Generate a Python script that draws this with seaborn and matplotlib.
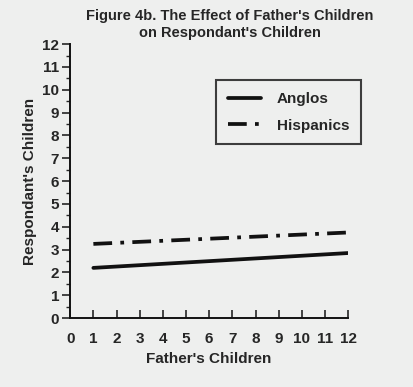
import matplotlib

matplotlib.use("Agg")

import matplotlib.pyplot as plt
import seaborn as sns
import pandas as pd
from matplotlib.lines import Line2D
from matplotlib.ticker import MultipleLocator

# values (straight fitted lines, endpoints at 1 and 12)
fathers_children = [1, 12]
anglos = [2.2, 2.85]
hispanics = [3.25, 3.75]
x_ticks = list(range(0, 13))
y_ticks = list(range(0, 13))

sns.set_theme(style="ticks")
plt.rcParams["font.family"] = ["Liberation Sans", "DejaVu Sans"]
plt.rcParams["font.weight"] = "bold"

df = pd.DataFrame({
    "father": fathers_children * 2,
    "resp": anglos + hispanics,
    "group": ["Anglos"] * 2 + ["Hispanics"] * 2,
})

bg = "#eeefee"
ink = "#111111"
dash_dot = (5, 2.2, 1, 2.2)

fig = plt.figure(figsize=(4.13, 3.87), dpi=100, facecolor=bg)
ax = fig.add_axes([0.17, 0.178, 0.673, 0.708], facecolor=bg)

sns.lineplot(data=df, x="father", y="resp", hue="group", style="group",
             palette=[ink, ink], dashes={"Anglos": "", "Hispanics": dash_dot},
             linewidth=2.7, ax=ax, legend=False)

ax.set_xlim(0, 12)
ax.set_ylim(0, 12)
ax.set_xticks(x_ticks)
ax.set_yticks(y_ticks)
ax.yaxis.set_minor_locator(MultipleLocator(0.5))
ax.tick_params(axis="x", direction="in", length=6, width=1.2, labelsize=11, pad=10)
ax.tick_params(axis="y", which="major", direction="out", length=6, width=1.2,
               labelsize=11, pad=2)
ax.tick_params(axis="y", which="minor", direction="out", length=3, width=1)
for lab in ax.get_xticklabels() + ax.get_yticklabels():
    lab.set_fontweight("bold")
sns.despine(ax=ax)
for s in ("left", "bottom"):
    ax.spines[s].set_linewidth(1.4)
    ax.spines[s].set_color(ink)

ax.set_xlabel("Father's Children", fontsize=11, fontweight="bold", labelpad=4)
ax.set_ylabel("Respondant's Children", fontsize=11, fontweight="bold", labelpad=4)

fig.text(0.557, 0.937, "Figure 4b. The Effect of Father's Children\non Respondant's Children",
         ha="center", va="center", fontsize=10.5, fontweight="bold", linespacing=1.3)

handles = [
    Line2D([], [], color=ink, lw=2.7),
    Line2D([], [], color=ink, lw=2.7, dashes=dash_dot),
]
leg = fig.legend(handles, ["Anglos", "Hispanics"], loc="upper left",
                 bbox_to_anchor=(0.505, 0.812), frameon=True, fancybox=False,
                 borderpad=0.75, labelspacing=0.85, handlelength=2.2,
                 handletextpad=1.0, prop={"weight": "bold", "size": 11})
leg.get_frame().set_edgecolor(ink)
leg.get_frame().set_linewidth(1.5)
leg.get_frame().set_facecolor(bg)

fig.savefig("out.png", dpi=100, facecolor=bg)
